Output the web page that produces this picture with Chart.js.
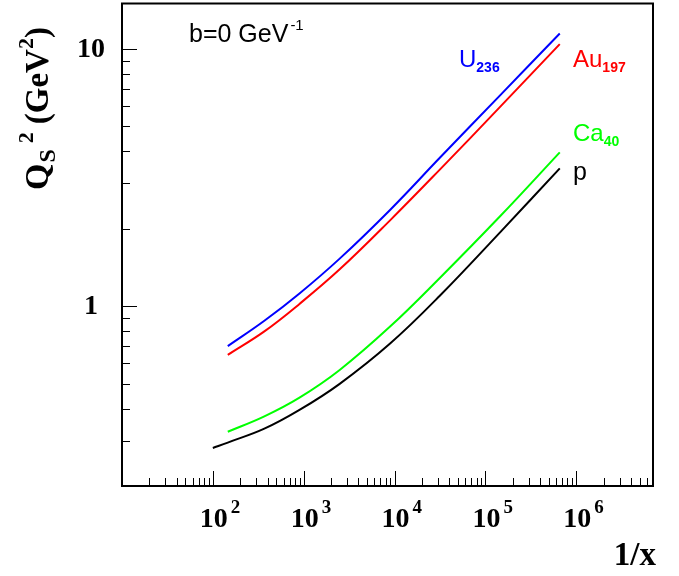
<!DOCTYPE html>
<html>
<head>
<meta charset="utf-8">
<script src="https://cdn.jsdelivr.net/npm/chart.js@4"></script>
<style>
  html, body { margin: 0; padding: 0; background: #fff; }
  canvas { display: block; }
</style>
</head>
<body>
<canvas id="qsChart" width="679" height="576"></canvas>
<script>
// 1/x grid shared by the nuclear curves
const invX = [146, 369, 899, 2490, 8870, 31700, 146000, 659000];
// the proton curve starts a bit earlier
const invXp = [100, 146, 369, 899, 2490, 8870, 31700, 146000, 659000];

// saturation scale Qs^2 (GeV^2) at b = 0
const qsU236 = [0.699, 0.877, 1.12, 1.53, 2.36, 3.78, 6.61, 11.47];
const qsAu197 = [0.647, 0.798, 1.02, 1.39, 2.15, 3.40, 5.96, 10.43];
const qsCa40 = [0.325, 0.373, 0.441, 0.565, 0.831, 1.29, 2.24, 3.96];
const qsP = [0.281, 0.295, 0.334, 0.395, 0.499, 0.714, 1.10, 1.94, 3.43];

// axis ticks
const xDecades = [2, 3, 4, 5, 6];
const yLabels = [1, 10];
const minorMult = [2, 3, 4, 5, 6, 7, 8, 9];

const SERIF = '"Liberation Serif", "Times New Roman", serif';
const SANS = '"Liberation Sans", Arial, sans-serif';

function pts(xs, ys) {
    return ys.map((y, i) => ({ x: xs[i], y: y }));
}

function curve(label, xs, ys, color) {
    return {
        label: label,
        data: pts(xs, ys),
        borderColor: color,
        borderWidth: 2,
        pointRadius: 0,
        fill: false,
        tension: 0.4
    };
}

// draws a run of text pieces: [text, font, dy, gap]
function drawRun(ctx, x, y, parts) {
    let cx = x;
    parts.forEach(p => {
        ctx.font = p[1];
        ctx.fillText(p[0], cx, y + (p[2] || 0));
        cx += ctx.measureText(p[0]).width + (p[3] || 0);
    });
    return cx;
}

const rootFrame = {
    id: 'rootFrame',
    afterDraw(chart) {
        const ctx = chart.ctx;
        const a = chart.chartArea;
        const xs = chart.scales.x, ys = chart.scales.y;
        ctx.save();
        ctx.strokeStyle = '#000';
        ctx.fillStyle = '#000';

        // frame
        ctx.lineWidth = 2;
        ctx.strokeRect(a.left, a.top, a.right - a.left, a.bottom - a.top);

        // x ticks, inside the frame
        ctx.lineWidth = 1;
        ctx.beginPath();
        for (let d = 1; d <= 6; d++) {
            const base = Math.pow(10, d);
            const px = Math.round(xs.getPixelForValue(base)) + 0.5;
            ctx.moveTo(px, a.bottom); ctx.lineTo(px, a.bottom - 15);
            minorMult.forEach(m => {
                const v = m * base;
                if (v > xs.max) return;
                const mx = Math.round(xs.getPixelForValue(v)) + 0.5;
                ctx.moveTo(mx, a.bottom); ctx.lineTo(mx, a.bottom - 8);
            });
        }
        // y ticks
        [0.1, 1, 10].forEach(base => {
            if (base >= ys.min && base <= ys.max) {
                const py = Math.round(ys.getPixelForValue(base)) + 0.5;
                ctx.moveTo(a.left, py); ctx.lineTo(a.left + 15, py);
            }
            minorMult.forEach(m => {
                const v = m * base;
                if (v < ys.min || v > ys.max) return;
                const my = Math.round(ys.getPixelForValue(v)) + 0.5;
                ctx.moveTo(a.left, my); ctx.lineTo(a.left + 8, my);
            });
        });
        ctx.stroke();

        // x tick labels 10^n
        ctx.textBaseline = 'alphabetic';
        xDecades.forEach(n => {
            const px = xs.getPixelForValue(Math.pow(10, n));
            ctx.textAlign = 'center';
            ctx.font = 'bold 28px ' + SERIF;
            ctx.fillText('10', px + 1, 527);
            ctx.textAlign = 'left';
            ctx.font = 'bold 19px ' + SERIF;
            ctx.fillText(String(n), px + 18, 513);
        });

        // y tick labels
        ctx.textAlign = 'center';
        ctx.textBaseline = 'middle';
        ctx.font = 'bold 28px ' + SERIF;
        yLabels.forEach(v => {
            ctx.fillText(String(v), 91, ys.getPixelForValue(v) + 1);
        });

        // x title
        ctx.textAlign = 'right';
        ctx.textBaseline = 'alphabetic';
        ctx.font = 'bold 33px ' + SERIF;
        ctx.fillText('1/x', 656, 565);

        // y title, rotated
        ctx.save();
        ctx.translate(48, 190);
        ctx.rotate(-Math.PI / 2);
        ctx.textAlign = 'left';
        drawRun(ctx, 0, 0, [
            ['Q', 'bold 34px ' + SERIF, 0, 1],
            ['S', 'bold 24px ' + SERIF, 7, 6],
            ['2', 'bold 22px ' + SERIF, -15, 8],
            ['(GeV', 'bold 33px ' + SERIF, 0, 0],
            ['2', 'bold 22px ' + SERIF, -15, 0],
            [')', 'bold 33px ' + SERIF, 0, 0]
        ]);
        ctx.restore();

        // annotations inside the frame
        ctx.textAlign = 'left';
        ctx.fillStyle = '#000';
        drawRun(ctx, 189, 42, [
            ['b=0 GeV', '25px ' + SANS, 0, 2],
            ['-1', '15px ' + SANS, -12, 0]
        ]);

        ctx.fillStyle = '#0000ff';
        drawRun(ctx, 459, 67, [
            ['U', '24px ' + SANS, 0, 0],
            ['236', 'bold 14px ' + SANS, 5, 0]
        ]);
        ctx.fillStyle = '#ff0000';
        drawRun(ctx, 573, 67, [
            ['Au', '24px ' + SANS, 0, 0],
            ['197', 'bold 14px ' + SANS, 5, 0]
        ]);
        ctx.fillStyle = '#00ff00';
        drawRun(ctx, 573, 141, [
            ['Ca', '24px ' + SANS, 0, 0],
            ['40', 'bold 14px ' + SANS, 5, 0]
        ]);
        ctx.fillStyle = '#000';
        drawRun(ctx, 573, 180, [['p', '25px ' + SANS, 0, 0]]);

        ctx.restore();
    }
};

const ctx = document.getElementById('qsChart').getContext('2d');
new Chart(ctx, {
    type: 'line',
    data: {
        datasets: [
            curve('U236', invX, qsU236, '#0000ff'),
            curve('Au197', invX, qsAu197, '#ff0000'),
            curve('Ca40', invX, qsCa40, '#00ff00'),
            curve('p', invXp, qsP, '#000000')
        ]
    },
    options: {
        responsive: false,
        animation: false,
        layout: { padding: { left: 122, right: 26, top: 3.5, bottom: 90 } },
        scales: {
            x: { type: 'logarithmic', min: 10, max: 7e6, display: false },
            y: { type: 'logarithmic', min: 0.2, max: 15, display: false }
        },
        plugins: { legend: { display: false }, tooltip: { enabled: false } }
    },
    plugins: [rootFrame]
});
</script>
</body>
</html>
